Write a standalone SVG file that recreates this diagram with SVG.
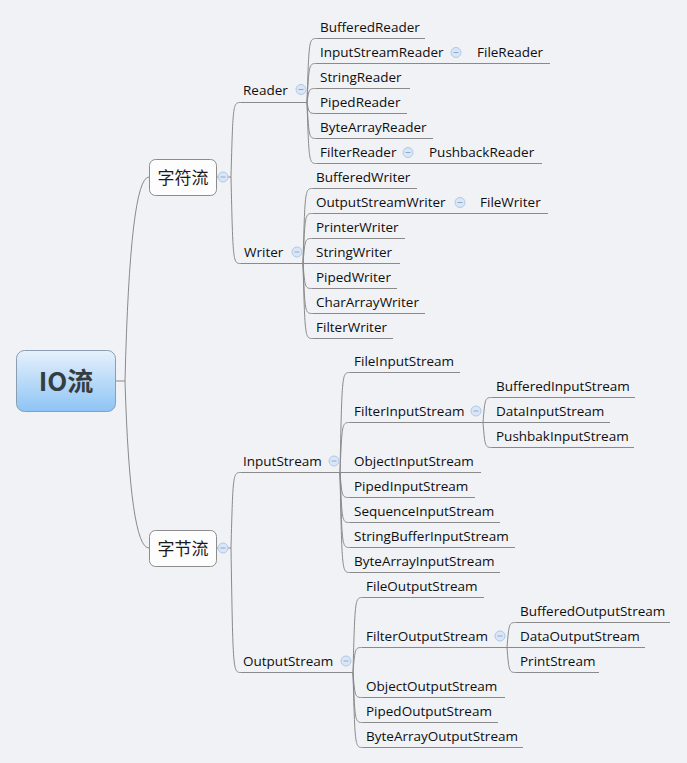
<svg xmlns="http://www.w3.org/2000/svg" xmlns:xlink="http://www.w3.org/1999/xlink" width="687" height="763" viewBox="0 0 687 763">
<style>
.bg{fill:#f1f2f6}
.ln{fill:none;stroke:#8a8a8a;stroke-width:1}
.t{font-family:"Open Sans","Noto Sans CJK SC",sans-serif;font-size:13.5px;fill:#0e0e0e}
.cn{font-family:"Noto Sans CJK SC","Noto Sans",sans-serif;font-size:17px;fill:#1a1a1a;text-anchor:middle}
.root{font-family:"Noto Sans CJK SC","Noto Sans",sans-serif;font-size:26px;font-weight:bold;fill:#353d41;text-anchor:middle}
.box{fill:#fdfdfd;stroke:#8c8c8c;stroke-width:1}
</style>
<defs>
<linearGradient id="rg" x1="0" y1="0" x2="0" y2="1">
<stop offset="0" stop-color="#e6f1fc"/>
<stop offset="1" stop-color="#8ec4f5"/>
</linearGradient>
<g id="col">
<circle r="5" fill="#dae6f6" stroke="#b0c8e6" stroke-width="1"/>
<path d="M-2.5,0H2.5" stroke="#8aaad2" stroke-width="1"/>
</g>
</defs>
<rect class="bg" x="0" y="0" width="687" height="763"/>

<g id="connectors">
<path class="ln" d="M116,381H125Q130,177 149,177"/>
<path class="ln" d="M125,381Q130,548 149,548"/>
<path class="ln" d="M217,177H231"/>
<path class="ln" d="M217,548H231"/>
<path class="ln" d="M231,177C233,102.5 233,102.5 241,102.5H307"/>
<path class="ln" d="M231,177C233,263.5 233,263.5 241,263.5H303"/>
<path class="ln" d="M231,548C233,472.5 233,472.5 241,472.5H340"/>
<path class="ln" d="M231,548C233,672.5 233,672.5 241,672.5H353"/>
<!-- Reader children -->
<path class="ln" d="M307,102.5C309,38.5 309,38.5 317,38.5H425"/>
<path class="ln" d="M307,102.5C309,63.5 309,63.5 317,63.5H462"/>
<path class="ln" d="M462,63.5H550"/>
<path class="ln" d="M307,102.5C309,88.5 309,88.5 317,88.5H410"/>
<path class="ln" d="M307,102.5C309,113.5 309,113.5 317,113.5H407"/>
<path class="ln" d="M307,102.5C309,138.5 309,138.5 317,138.5H433"/>
<path class="ln" d="M307,102.5C309,163.5 309,163.5 317,163.5H414"/>
<path class="ln" d="M414,163.5H542"/>
<!-- Writer children -->
<path class="ln" d="M303,263.5C305,188.5 305,188.5 313,188.5H417"/>
<path class="ln" d="M303,263.5C305,213.5 305,213.5 313,213.5H466"/>
<path class="ln" d="M466,213.5H548"/>
<path class="ln" d="M303,263.5C305,238.5 305,238.5 313,238.5H405"/>
<path class="ln" d="M303,263.5H400"/>
<path class="ln" d="M303,263.5C305,288.5 305,288.5 313,288.5H397"/>
<path class="ln" d="M303,263.5C305,313.5 305,313.5 313,313.5H425"/>
<path class="ln" d="M303,263.5C305,338.5 305,338.5 313,338.5H393"/>
<!-- InputStream children -->
<path class="ln" d="M340,472.5C342,372.5 342,372.5 350,372.5H460"/>
<path class="ln" d="M340,472.5C342,422.5 342,422.5 350,422.5H483"/>
<path class="ln" d="M483,422.5C485,397.5 485,397.5 493,397.5H635"/>
<path class="ln" d="M483,422.5H610"/>
<path class="ln" d="M483,422.5C485,447.5 485,447.5 493,447.5H634"/>
<path class="ln" d="M340,472.5H481"/>
<path class="ln" d="M340,472.5C342,497.5 342,497.5 350,497.5H475"/>
<path class="ln" d="M340,472.5C342,522.5 342,522.5 350,522.5H500"/>
<path class="ln" d="M340,472.5C342,547.5 342,547.5 350,547.5H515"/>
<path class="ln" d="M340,472.5C342,572.5 342,572.5 350,572.5H500"/>
<!-- OutputStream children -->
<path class="ln" d="M353,672.5C355,597.5 355,597.5 363,597.5H484"/>
<path class="ln" d="M353,672.5C355,647.5 355,647.5 363,647.5H507"/>
<path class="ln" d="M507,647.5C509,622.5 509,622.5 517,622.5H670"/>
<path class="ln" d="M507,647.5H645"/>
<path class="ln" d="M507,647.5C509,672.5 509,672.5 517,672.5H599"/>
<path class="ln" d="M353,672.5C355,697.5 355,697.5 363,697.5H505"/>
<path class="ln" d="M353,672.5C355,722.5 355,722.5 363,722.5H498"/>
<path class="ln" d="M353,672.5C355,747.5 355,747.5 363,747.5H523"/>
</g>

<g id="root">
<rect x="16.5" y="350.5" width="99" height="61" rx="8" fill="url(#rg)" stroke="#8b9db0"/>
<text class="root" x="66" y="391">IO流</text>
</g>
<g id="char-stream">
<rect class="box" x="149.5" y="159.5" width="67" height="36" rx="6"/>
<text class="cn" x="183" y="183.5">字符流</text>
<use xlink:href="#col" x="223" y="177"/>
</g>
<g id="byte-stream">
<rect class="box" x="149.5" y="530.5" width="67" height="36" rx="6"/>
<text class="cn" x="183" y="554.5">字节流</text>
<use xlink:href="#col" x="223" y="548"/>
</g>

<g id="reader"><text class="t" x="243" y="95">Reader</text><use xlink:href="#col" x="301" y="89.5"/></g>
<g id="writer"><text class="t" x="244" y="257">Writer</text><use xlink:href="#col" x="297" y="252"/></g>
<g id="inputstream"><text class="t" x="243" y="466">InputStream</text><use xlink:href="#col" x="334" y="461"/></g>
<g id="outputstream"><text class="t" x="243" y="666">OutputStream</text><use xlink:href="#col" x="346" y="661"/></g>

<g id="bufferedreader"><text class="t" x="320" y="32">BufferedReader</text></g>
<g id="inputstreamreader"><text class="t" x="320" y="57">InputStreamReader</text><use xlink:href="#col" x="456" y="52.5"/></g>
<g id="filereader"><text class="t" x="477" y="57">FileReader</text></g>
<g id="stringreader"><text class="t" x="320" y="82">StringReader</text></g>
<g id="pipedreader"><text class="t" x="320" y="107">PipedReader</text></g>
<g id="bytearrayreader"><text class="t" x="320" y="132">ByteArrayReader</text></g>
<g id="filterreader"><text class="t" x="320" y="157">FilterReader</text><use xlink:href="#col" x="408" y="152.5"/></g>
<g id="pushbackreader"><text class="t" x="429" y="157">PushbackReader</text></g>

<g id="bufferedwriter"><text class="t" x="316" y="182">BufferedWriter</text></g>
<g id="outputstreamwriter"><text class="t" x="316" y="207">OutputStreamWriter</text><use xlink:href="#col" x="460" y="202.5"/></g>
<g id="filewriter"><text class="t" x="480" y="207">FileWriter</text></g>
<g id="printerwriter"><text class="t" x="316" y="232">PrinterWriter</text></g>
<g id="stringwriter"><text class="t" x="316" y="257">StringWriter</text></g>
<g id="pipedwriter"><text class="t" x="316" y="282">PipedWriter</text></g>
<g id="chararraywriter"><text class="t" x="316" y="307">CharArrayWriter</text></g>
<g id="filterwriter"><text class="t" x="316" y="332">FilterWriter</text></g>

<g id="fileinputstream"><text class="t" x="354" y="366">FileInputStream</text></g>
<g id="filterinputstream"><text class="t" x="354" y="416">FilterInputStream</text><use xlink:href="#col" x="476" y="411"/></g>
<g id="bufferedinputstream"><text class="t" x="496" y="391">BufferedInputStream</text></g>
<g id="datainputstream"><text class="t" x="496" y="416">DataInputStream</text></g>
<g id="pushbakinputstream"><text class="t" x="496" y="441">PushbakInputStream</text></g>
<g id="objectinputstream"><text class="t" x="354" y="466">ObjectInputStream</text></g>
<g id="pipedinputstream"><text class="t" x="354" y="491">PipedInputStream</text></g>
<g id="sequenceinputstream"><text class="t" x="354" y="516">SequenceInputStream</text></g>
<g id="stringbufferinputstream"><text class="t" x="354" y="541">StringBufferInputStream</text></g>
<g id="bytearrayinputstream"><text class="t" x="354" y="566">ByteArrayInputStream</text></g>

<g id="fileoutputstream"><text class="t" x="366" y="591">FileOutputStream</text></g>
<g id="filteroutputstream"><text class="t" x="366" y="641">FilterOutputStream</text><use xlink:href="#col" x="500" y="636"/></g>
<g id="bufferedoutputstream"><text class="t" x="520" y="616">BufferedOutputStream</text></g>
<g id="dataoutputstream"><text class="t" x="520" y="641">DataOutputStream</text></g>
<g id="printstream"><text class="t" x="520" y="666">PrintStream</text></g>
<g id="objectoutputstream"><text class="t" x="366" y="691">ObjectOutputStream</text></g>
<g id="pipedoutputstream"><text class="t" x="366" y="716">PipedOutputStream</text></g>
<g id="bytearrayoutputstream"><text class="t" x="366" y="741">ByteArrayOutputStream</text></g>
</svg>
